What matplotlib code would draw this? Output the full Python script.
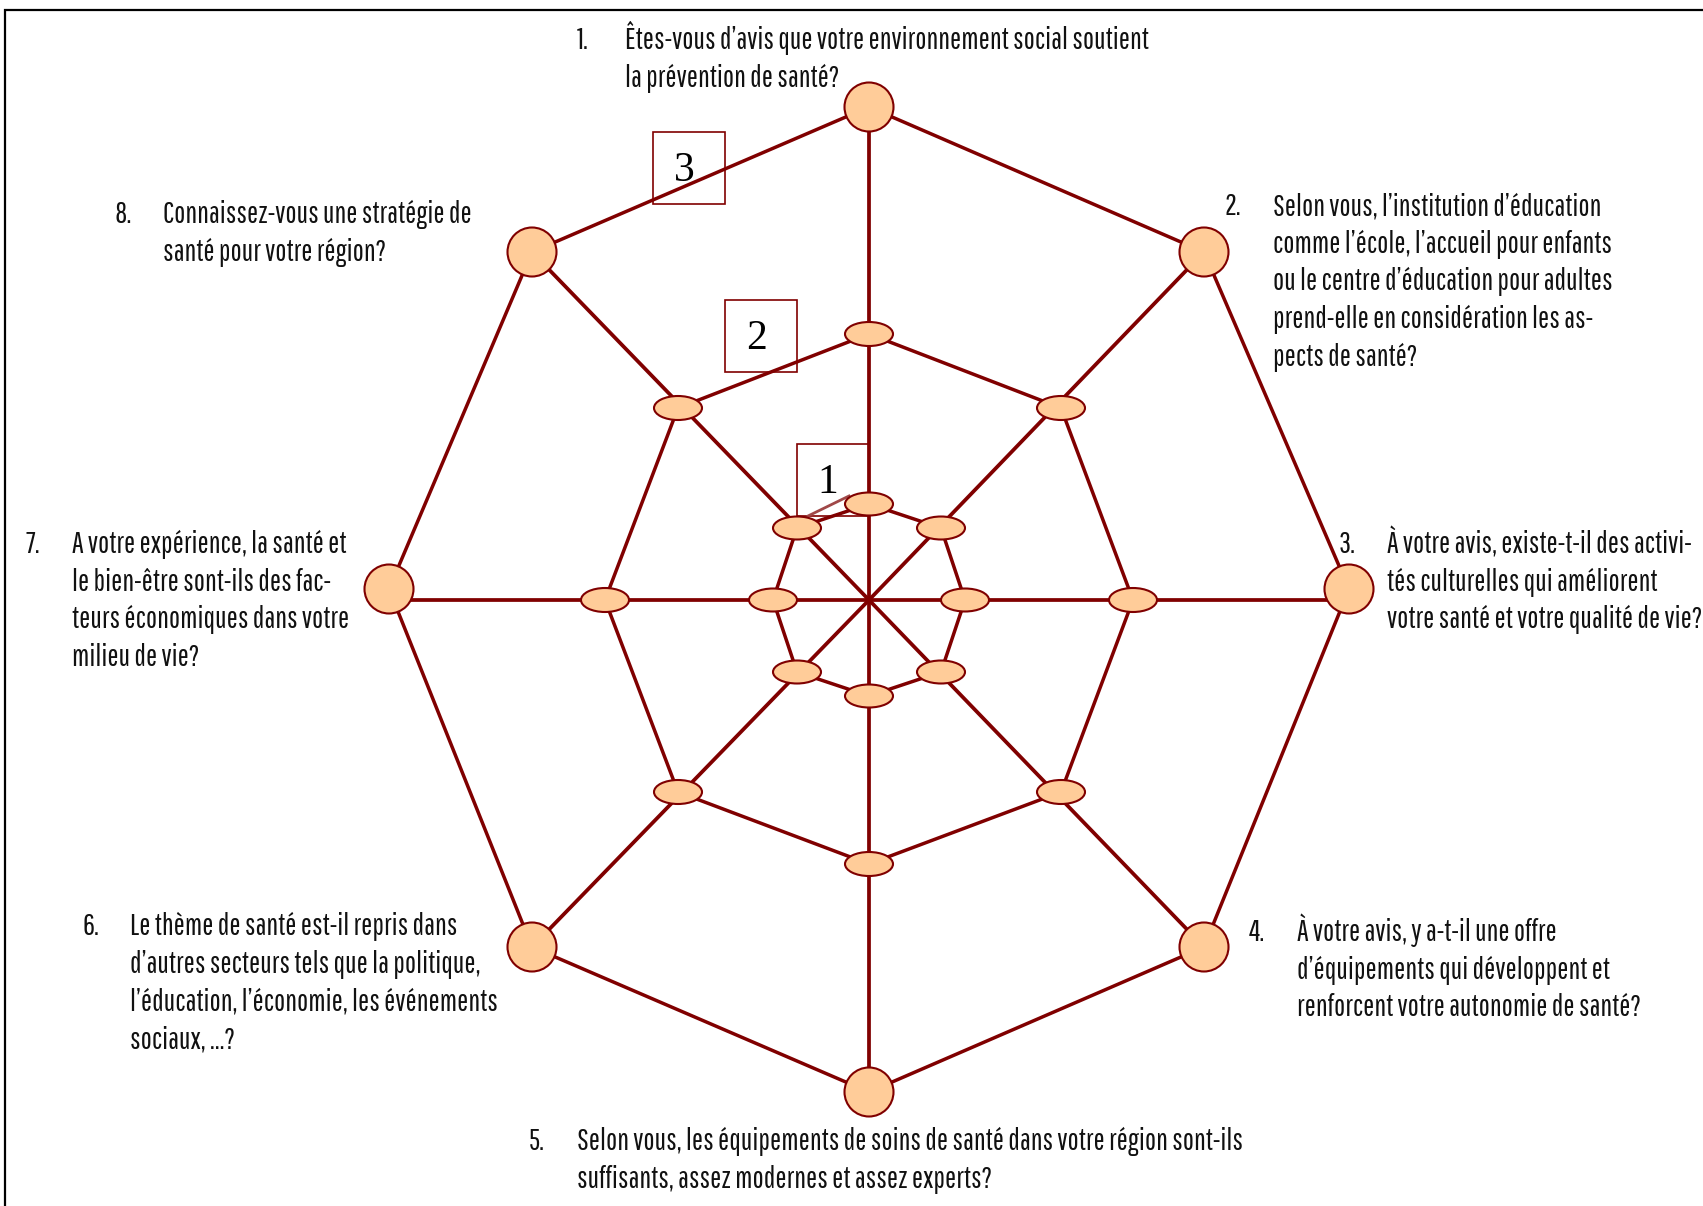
import matplotlib
matplotlib.use("Agg")
import matplotlib.pyplot as plt
from matplotlib import font_manager
from matplotlib.patches import Ellipse, Circle, Rectangle

# node positions (image pixels, y downwards), order: 1..8 clockwise from top
center = (869, 600)
ring1_x = [869, 941, 965, 941, 869, 797, 773, 797]
ring1_y = [504, 528, 600, 672, 696, 672, 600, 528]
ring2_x = [869, 1061, 1133, 1061, 869, 678, 605, 678]
ring2_y = [334, 408, 600, 792, 864, 792, 600, 408]
ring3_x = [869, 1204, 1349, 1204, 869, 532, 389, 532]
ring3_y = [107, 252, 589, 947, 1092, 947, 589, 252]

level_names = ["1", "2", "3"]
level_box_x = [797, 725, 653]
level_box_y = [444, 300, 132]

numbers = ["1.", "2.", "3.", "4.", "5.", "6.", "7.", "8."]
questions = [
    ["Êtes-vous d’avis que votre environnement social soutient",
     "la prévention de santé?"],
    ["Selon vous, l’institution d’éducation",
     "comme l’école, l’accueil pour enfants",
     "ou le centre d’éducation pour adultes",
     "prend-elle en considération les as-",
     "pects de santé?"],
    ["À votre avis, existe-t-il des activi-",
     "tés culturelles qui améliorent",
     "votre santé et votre qualité de vie?"],
    ["À votre avis, y a-t-il une offre",
     "d’équipements qui développent et",
     "renforcent votre autonomie de santé?"],
    ["Selon vous, les équipements de soins de santé dans votre région sont-ils",
     "suffisants, assez modernes et assez experts?"],
    ["Le thème de santé est-il repris dans",
     "d’autres secteurs tels que la politique,",
     "l’éducation, l’économie, les événements",
     "sociaux, ...?"],
    ["A votre expérience, la santé et",
     "le bien-être sont-ils des fac-",
     "teurs économiques dans votre",
     "milieu de vie?"],
    ["Connaissez-vous une stratégie de",
     "santé pour votre région?"],
]
num_x = [577, 1225, 1339, 1249, 529, 82, 25, 115]
text_x = [625, 1273, 1387, 1297, 577, 130, 72, 163]
first_base = [49, 215, 553, 941, 1150, 935, 553, 223]
line_step = 37.7

red = "#800000"
fill = "#ffcc99"

# pick a narrow font that is installed
installed = set(f.name for f in font_manager.fontManager.ttflist)
font = "DejaVu Sans"
for name in ["Pathway Gothic One", "Roboto Condensed", "Archivo Narrow",
             "PT Sans Narrow", "Liberation Sans Narrow", "Liberation Sans"]:
    if name in installed:
        font = name
        break

W, H = 1703, 1206
fig = plt.figure(figsize=(W / 100, H / 100), dpi=100)
ax = fig.add_axes([0, 0, 1, 1])
ax.set_xlim(0, W)
ax.set_ylim(H, 0)
ax.axis("off")

# size the text so that a reference line is ~314 px wide
probe = ax.text(0, 0, questions[2][2], fontsize=20, family=[font, "DejaVu Sans"])
wpx = probe.get_window_extent(fig.canvas.get_renderer()).width
probe.remove()
fsize = min(26, 20 * 314 / wpx)

# frame (only top and left visible)
ax.plot([5, 5, W], [H, 10, 10], color="black", lw=1.6, solid_joinstyle="miter", zorder=1)

# spokes
for i in range(8):
    ex, ey = ring3_x[i], ring3_y[i]
    if i in (2, 6):
        ey = center[1]
    ax.plot([center[0], ex], [center[1], ey], color=red, lw=2.7, zorder=2)

# rings
for rx, ry in [(ring1_x, ring1_y), (ring2_x, ring2_y), (ring3_x, ring3_y)]:
    ax.plot(rx + rx[:1], ry + ry[:1], color=red, lw=2.5, zorder=2)

# level boxes
for name, bx, by in zip(level_names, level_box_x, level_box_y):
    ax.add_patch(Rectangle((bx, by), 72, 72, fill=False, ec=red, lw=1.2, zorder=3))
    ax.text(bx + 31, by + 39, name, ha="center", va="center", fontsize=30,
            family=["Liberation Serif", "DejaVu Serif"], color="black", zorder=3)
ax.plot([808, 849], [516, 496], color="#a04848", lw=2.0, zorder=3)

# markers
for x, y in zip(ring1_x, ring1_y):
    ax.add_patch(Ellipse((x, y), 48, 23, fc=fill, ec=red, lw=1.5, zorder=4))
for x, y in zip(ring2_x, ring2_y):
    ax.add_patch(Ellipse((x, y), 48, 24, fc=fill, ec=red, lw=1.5, zorder=4))
for x, y in zip(ring3_x, ring3_y):
    ax.add_patch(Circle((x, y), 24.5, fc=fill, ec=red, lw=1.5, zorder=4))

# question labels
for k in range(8):
    ax.text(num_x[k], first_base[k], numbers[k], ha="left", va="baseline",
            fontsize=fsize, family=[font, "DejaVu Sans"], color="#111111", zorder=5)
    for j, line in enumerate(questions[k]):
        ax.text(text_x[k], first_base[k] + j * line_step, line, ha="left", va="baseline",
                fontsize=fsize, family=[font, "DejaVu Sans"], color="#111111", zorder=5)

fig.savefig("out.png", dpi=100)
